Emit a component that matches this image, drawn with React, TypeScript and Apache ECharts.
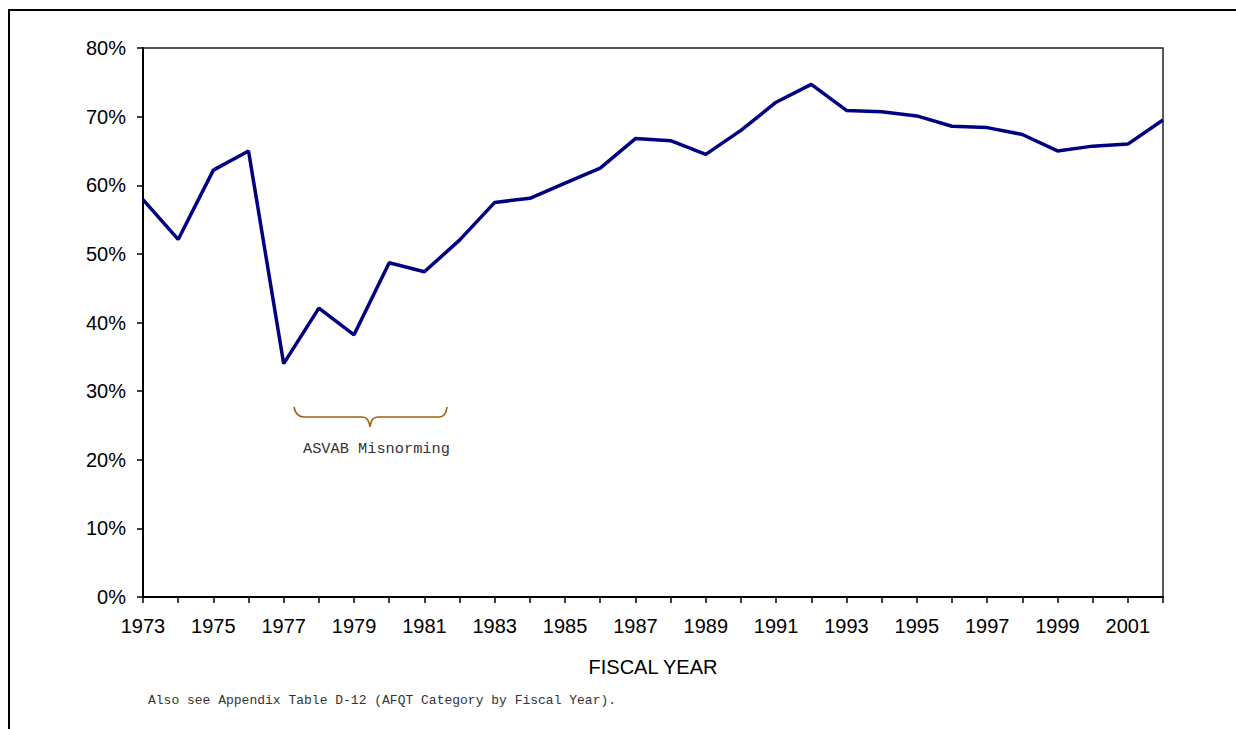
import React, { useEffect, useRef } from "react";
import * as echarts from "echarts";

const years = [
  "1973", "1974", "1975", "1976", "1977", "1978", "1979", "1980", "1981", "1982",
  "1983", "1984", "1985", "1986", "1987", "1988", "1989", "1990", "1991", "1992",
  "1993", "1994", "1995", "1996", "1997", "1998", "1999", "2000", "2001", "2002",
];
const pctValues = [
  57.9, 52.1, 62.2, 65.0, 34.0, 42.1, 38.2, 48.7, 47.4, 52.0,
  57.5, 58.1, 60.3, 62.5, 66.8, 66.5, 64.5, 68.0, 72.1, 74.7,
  70.9, 70.7, 70.1, 68.6, 68.4, 67.4, 65.0, 65.7, 66.0, 69.5,
];
const yTicks = { min: 0, max: 80, interval: 10 };
const xAxisTitle = "FISCAL YEAR";
const annotationText = "ASVAB Misnorming";
const footnoteText = "Also see Appendix Table D-12 (AFQT Category by Fiscal Year).";

const bracePath =
  "M294,407 Q296,417 304,417 L362,417 Q369,417 370,427 Q371,417 378,417 L439,417 Q446,417 447,407";

export default function App() {
  const ref = useRef<HTMLDivElement>(null);
  useEffect(() => {
    if (!ref.current) return;
    try {
      echarts.graphic.registerShape("brace", echarts.graphic.extendPath(bracePath, {}) as any);
    } catch (e) {}
    const chart = echarts.init(ref.current, null, { renderer: "svg" });
    chart.setOption({
      animation: false,
      backgroundColor: "#ffffff",
      grid: {
        left: 143,
        right: 73,
        top: 48,
        bottom: 132,
        show: true,
        borderColor: "#222",
        borderWidth: 1.5,
        backgroundColor: "transparent",
      },
      xAxis: {
        type: "category",
        data: years,
        boundaryGap: false,
        name: xAxisTitle,
        nameLocation: "middle",
        nameGap: 60,
        nameTextStyle: { fontFamily: "Liberation Sans", fontSize: 20, color: "#000" },
        axisLine: { lineStyle: { color: "#000", width: 2 } },
        axisTick: { show: true, interval: 0, length: 6, lineStyle: { color: "#000", width: 1.5 } },
        axisLabel: {
          interval: 1,
          margin: 19,
          fontFamily: "Liberation Sans",
          fontSize: 20,
          color: "#000",
        },
        splitLine: { show: false },
      },
      yAxis: {
        type: "value",
        min: yTicks.min,
        max: yTicks.max,
        interval: yTicks.interval,
        axisLine: { show: true, lineStyle: { color: "#000", width: 2 } },
        axisTick: { show: true, length: 6, lineStyle: { color: "#000", width: 1.5 } },
        axisLabel: {
          margin: 17,
          formatter: "{value}%",
          fontFamily: "Liberation Sans",
          fontSize: 20,
          color: "#000",
        },
        splitLine: { show: false },
      },
      series: [
        {
          type: "line",
          data: pctValues,
          symbol: "none",
          lineStyle: { color: "#000080", width: 3.5 },
        },
      ],
      graphic: [
        {
          type: "rect",
          shape: { x: 9, y: 10, width: 1400, height: 900 },
          style: { fill: "none", stroke: "#000", lineWidth: 2 },
          silent: true,
        },
        {
          type: "brace",
          x: 0,
          y: 0,
          style: { fill: "none", stroke: "#A0600F", lineWidth: 1.6 },
          silent: true,
        },
        {
          type: "text",
          x: 303,
          y: 449,
          style: {
            text: annotationText,
            fontFamily: "Liberation Mono",
            fontSize: 15.3,
            fill: "#333",
            verticalAlign: "middle",
            align: "left",
          },
        },
        {
          type: "text",
          x: 148,
          y: 700,
          style: {
            text: footnoteText,
            fontFamily: "Liberation Mono",
            fontSize: 13,
            fill: "#333",
            verticalAlign: "middle",
            align: "left",
          },
        },
      ],
    });
    return () => chart.dispose();
  }, []);
  return (
    <div
      ref={ref}
      style={{ position: "absolute", left: 0, top: 0, width: 1236, height: 729, background: "#fff" }}
    />
  );
}
